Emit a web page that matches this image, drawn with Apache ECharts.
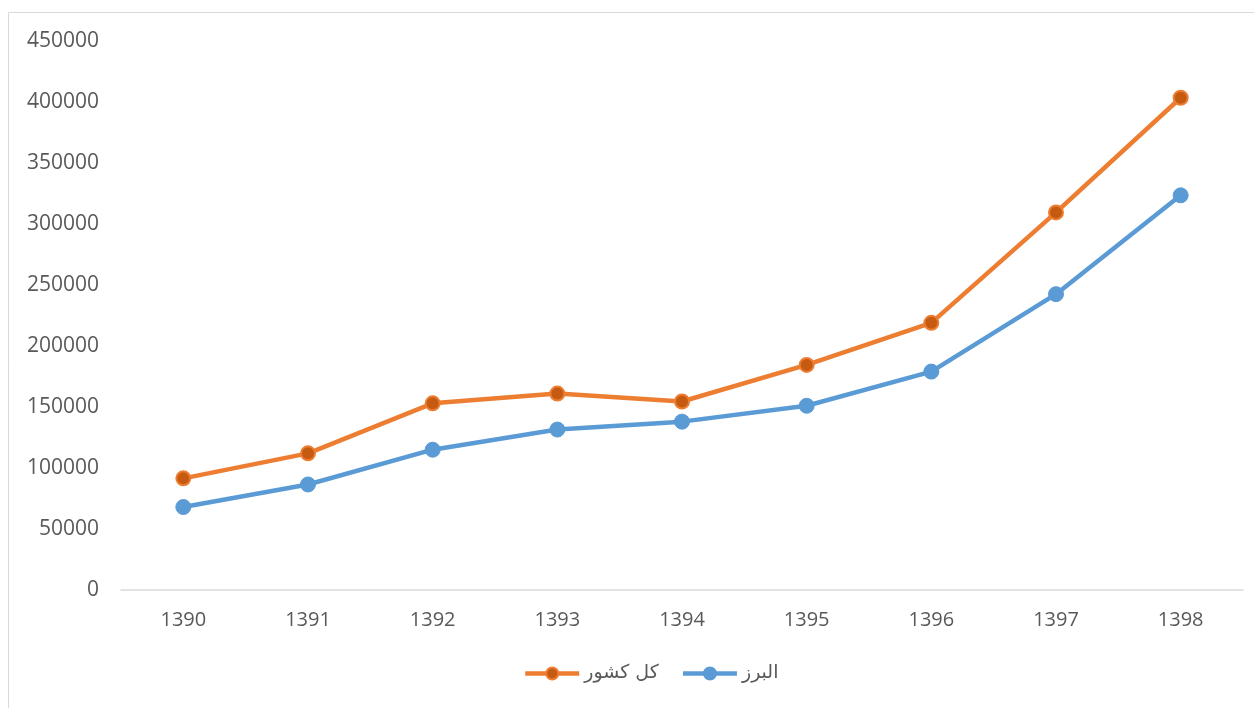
<!DOCTYPE html>
<html>
<head>
<meta charset="utf-8">
<script src="https://cdn.jsdelivr.net/npm/echarts@6/dist/echarts.min.js"></script>
<style>html,body{margin:0;padding:0;background:#fff}#c{width:1254px;height:708px}</style>
</head>
<body>
<div id="c"></div>
<script>
var categories = ['1390','1391','1392','1393','1394','1395','1396','1397','1398'];
var seriesNames = ['کل کشور', 'البرز'];
var totalCountry = [91500, 112000, 153000, 161000, 154500, 184500, 219000, 309500, 403500];
var alborz = [68000, 86500, 115000, 131500, 138000, 151000, 179000, 242500, 323500];

var chart = echarts.init(document.getElementById('c'));
var font = '"Open Sans", "Noto Sans", sans-serif';
chart.setOption({
  backgroundColor: '#fff',
  animation: false,
  textStyle: {fontFamily: font},
  graphic: [{
    type: 'rect', shape: {x: 8.5, y: 12.5, width: 1260, height: 720},
    style: {fill: 'none', stroke: '#d9d9d9', lineWidth: 1}, silent: true
  }],
  grid: {left: 121, right: 11, top: 41, bottom: 118},
  legend: {
    bottom: 20, left: 518,
    itemWidth: 54, itemHeight: 15, itemGap: 22,
    lineStyle: {width: 4.5},
    textStyle: {fontSize: 19, color: '#595959', fontFamily: '"DejaVu Sans", sans-serif'},
    data: seriesNames
  },
  xAxis: {
    type: 'category', data: categories, boundaryGap: true,
    axisLine: {lineStyle: {color: '#d9d9d9', width: 1.5}},
    axisTick: {show: false},
    axisLabel: {fontSize: 20, color: '#595959', margin: 20, fontFamily: font}
  },
  yAxis: {
    type: 'value', min: 0, max: 450000, interval: 50000,
    axisLine: {show: false}, axisTick: {show: false},
    splitLine: {show: false},
    axisLabel: {fontSize: 21, color: '#595959', margin: 22, fontFamily: font,
      formatter: function (v) { return String(v); }}
  },
  series: [{
    name: seriesNames[0], type: 'line', data: totalCountry,
    symbol: 'circle', symbolSize: 14,
    lineStyle: {color: '#ED7D31', width: 4.5},
    itemStyle: {color: '#C55A11', borderColor: '#ED7D31', borderWidth: 2}
  }, {
    name: seriesNames[1], type: 'line', data: alborz,
    symbol: 'circle', symbolSize: 15,
    lineStyle: {color: '#5B9BD5', width: 4.5},
    itemStyle: {color: '#5B9BD5', borderColor: '#5B9BD5', borderWidth: 1}
  }]
});
</script>
</body>
</html>
